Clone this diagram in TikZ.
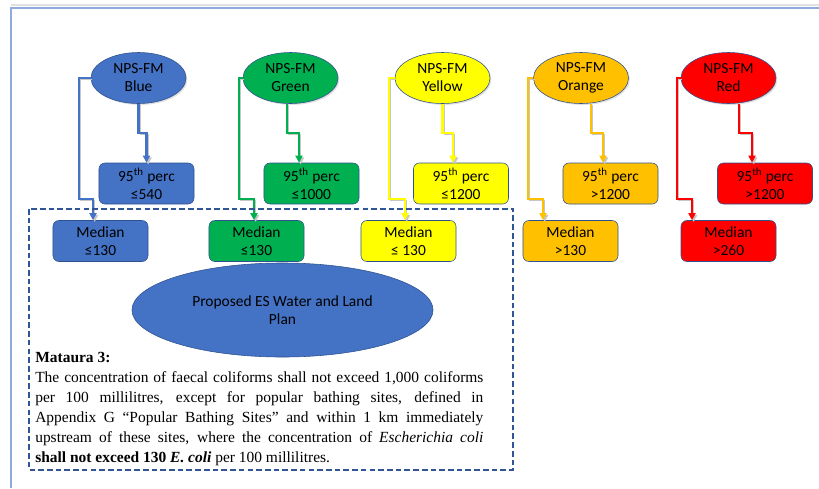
\documentclass[tikz,border=0pt]{standalone}
\usepackage{fontspec}
\setmainfont{Liberation Serif}
\newfontfamily\calfont{Carlito}
\usepackage{tikz}
\usetikzlibrary{shapes.geometric,arrows.meta,calc,shadows}
\definecolor{NpsBlue}{HTML}{4472C4}
\definecolor{NpsGreen}{HTML}{00B050}
\definecolor{NpsYellow}{HTML}{FFFF00}
\definecolor{NpsOrange}{HTML}{FFC000}
\definecolor{NpsRed}{HTML}{FF0000}
\definecolor{EdgeBlue}{HTML}{2F528F}
\definecolor{DashBlue}{HTML}{2F5597}
\definecolor{FrameBlue}{HTML}{8FAADC}

\begin{document}
\begin{tikzpicture}[x=0.025cm, y=-0.025cm,
    nps/.style={ellipse, draw=EdgeBlue, fill=#1, minimum width=2.375cm, minimum height=1.275cm, inner sep=0pt, align=center,
        font=\calfont\fontsize{11}{12.8}\selectfont, drop shadow={shadow xshift=1pt, shadow yshift=-1pt, opacity=0.25}},
    rbox/.style={rectangle, rounded corners=0.15cm, draw=EdgeBlue, fill=#1, minimum width=2.375cm, minimum height=1.025cm, inner sep=0pt, align=center,
        font=\calfont\fontsize{11}{12.8}\selectfont},
    link/.style={draw=#1, line width=1.5pt, -{Triangle[length=5pt,width=5pt]},
        preaction={draw=black!22, line width=0.8pt, transform canvas={shift={(1.2pt,-1.2pt)}}}}
]
    \useasboundingbox (0,0) rectangle (819,488);
    % page frame
    \draw[black!12, line width=2pt] (11,5) -- (819,5);
    \draw[FrameBlue, line width=1.2pt] (819,8) -- (11,8) -- (11,488);

    % top row
    \node[nps=NpsBlue] (bnps) at (138.5,78) {NPS-FM\\Blue};
    \node[nps=NpsGreen] (gnps) at (290.5,78) {NPS-FM\\Green};
    \node[nps=NpsYellow] (ynps) at (442.5,78) {NPS-FM\\Yellow};
    \node[nps=NpsOrange] (onps) at (581,78) {NPS-FM\\Orange};
    \node[nps=NpsRed] (rnps) at (728.5,78) {NPS-FM\\Red};

    % 95th percentile
    \node[rbox=NpsBlue] (bperc) at (146.5,183.5) {95\textsuperscript{th} perc\\≤540};
    \node[rbox=NpsGreen] (gperc) at (311.5,183.5) {95\textsuperscript{th} perc\\≤1000};
    \node[rbox=NpsYellow] (yperc) at (461,183.5) {95\textsuperscript{th} perc\\≤1200};
    \node[rbox=NpsOrange] (operc) at (610.5,183.5) {95\textsuperscript{th} perc\\>1200};
    \node[rbox=NpsRed] (rperc) at (765,183.5) {95\textsuperscript{th} perc\\>1200};

    % medians
    \node[rbox=NpsBlue] (bmed) at (100.5,241) {Median\\≤130};
    \node[rbox=NpsGreen] (gmed) at (256.5,241) {Median\\≤130};
    \node[rbox=NpsYellow] (ymed) at (408.5,241) {Median\\≤ 130};
    \node[rbox=NpsOrange] (omed) at (570.5,241) {Median\\>130};
    \node[rbox=NpsRed] (rmed) at (728.5,241) {Median\\>260};

    % connectors
    \draw[link=NpsBlue] (bnps.west) -| ($(bmed.north)+(-21.5,-21)$) -| ($(bmed.north)+(-7.5,0)$);
    \draw[link=NpsBlue] (bnps.south) |- ($(bperc.north)+(0,-30)$) -- (bperc.north);
    \draw[link=NpsGreen] (gnps.west) -| ($(gmed.north)+(-17.5,-21)$) -| ($(gmed.north)+(-2.5,0)$);
    \draw[link=NpsGreen] ($(gnps.south)+(-3.5,0)$) |- ($(gperc.north)+(-12.5,-30)$) -- ($(gperc.north)+(-12.5,0)$);
    \draw[link=NpsYellow] (ynps.west) -| ($(ymed.north)+(-19.5,-21)$) -| ($(ymed.north)+(-3.5,0)$);
    \draw[link=NpsYellow] (ynps.south) |- ($(yperc.north)+(-8,-30)$) -- ($(yperc.north)+(-8,0)$);
    \draw[link=NpsOrange] (onps.west) -| ($(omed.north)+(-42.5,-21)$) -| ($(omed.north)+(-27.5,0)$);
    \draw[link=NpsOrange] ($(onps.south)+(10,0)$) |- ($(operc.north)+(-7.5,-30)$) -- ($(operc.north)+(-7.5,0)$);
    \draw[link=NpsRed] (rnps.west) -| ($(rmed.north)+(-51.5,-21)$) -| ($(rmed.north)+(-36.5,0)$);
    \draw[link=NpsRed] ($(rnps.south)+(10.5,0)$) |- ($(rperc.north)+(-13,-30)$) -- ($(rperc.north)+(-13,0)$);

    % regional plan
    \draw[DashBlue, line width=1.1pt, dash pattern=on 4pt off 2.2pt] (29,209) rectangle (513,470);
    \node[ellipse, draw=EdgeBlue, fill=NpsBlue, minimum width=7.525cm, minimum height=2.35cm, inner sep=0pt, align=center,
        font=\calfont\fontsize{11}{12.8}\selectfont] (plan) at (282.5,310) {Proposed ES Water and Land\\Plan};
    \node[anchor=north west, text width=11.2cm, inner sep=0pt, align=justify, font=\fontsize{11}{14.2}\selectfont] (rule) at (35,352)
        {\textbf{Mataura 3:}\\
        The concentration of faecal coliforms shall not exceed 1,000 coliforms\linebreak
        per 100 millilitres, except for popular bathing sites, defined in\linebreak
        Appendix G “Popular Bathing Sites” and within 1 km immediately\linebreak
        upstream of these sites, where the concentration of \textit{Escherichia coli}\linebreak
        \textbf{shall not exceed 130 \textit{E. coli}} per 100 millilitres.};
\end{tikzpicture}
\end{document}
